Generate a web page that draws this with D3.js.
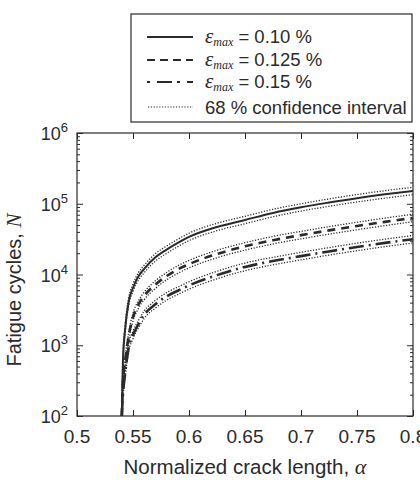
<!DOCTYPE html>
<html>
<head>
<meta charset="utf-8">
<script src="https://cdn.jsdelivr.net/npm/d3@7"></script>
<style>
  body { margin: 0; background: #fff; }
  text { font-family: "Liberation Sans", Arial, sans-serif; fill: #2a2a2a; }
</style>
</head>
<body>
<div id="chart"></div>
<script>
// data
var alpha = [0.540, 0.541, 0.543, 0.546, 0.55, 0.555, 0.56, 0.57, 0.58, 0.59, 0.6, 0.625, 0.65, 0.675, 0.7, 0.725, 0.75, 0.775, 0.8];

var eps010 = [100, 600, 1700, 4000, 6500, 9500, 12000, 17500, 22500, 28000, 34000, 47000, 59000, 74000, 89000, 104000, 120000, 136000, 152000];
var eps010Hi = [110, 700, 1950, 4550, 7350, 10700, 13500, 19700, 25300, 31500, 38300, 53000, 66500, 83500, 100000, 117000, 135000, 153000, 171000];
var eps010Lo = [90, 520, 1500, 3550, 5750, 8400, 10600, 15500, 19900, 24800, 30100, 41600, 52200, 65500, 78800, 92000, 106000, 120000, 134500];

var eps0125 = [100, 300, 600, 1300, 2500, 3800, 5000, 7200, 9500, 11800, 14000, 19500, 25000, 30500, 36000, 42000, 48500, 55500, 63000];
var eps0125Hi = [110, 340, 680, 1470, 2850, 4300, 5650, 8150, 10700, 13300, 15800, 22000, 28200, 34500, 40700, 47500, 54800, 62700, 71200];
var eps0125Lo = [90, 265, 530, 1150, 2200, 3350, 4420, 6350, 8400, 10400, 12400, 17250, 22100, 27000, 31900, 37200, 42900, 49100, 55800];

var eps015 = [100, 200, 400, 900, 1400, 2000, 2700, 3800, 4900, 5900, 7000, 9800, 12800, 15500, 18200, 21200, 24500, 28000, 31500];
var eps015Hi = [110, 225, 450, 1020, 1580, 2260, 3050, 4300, 5550, 6650, 7900, 11100, 14500, 17500, 20600, 24000, 27700, 31600, 35600];
var eps015Lo = [90, 175, 355, 800, 1240, 1770, 2390, 3360, 4340, 5220, 6200, 8700, 11300, 13700, 16100, 18800, 21700, 24800, 27900];

var xTicks = [0.5, 0.55, 0.6, 0.65, 0.7, 0.75, 0.8];
var xTickLabels = ["0.5", "0.55", "0.6", "0.65", "0.7", "0.75", "0.8"];
var yTickExp = [2, 3, 4, 5, 6];
var legendValues = ["0.10", "0.125", "0.15"];

var svgWidth = 420, svgHeight = 480;
var margin = { top: 133, right: 7, bottom: 64, left: 77 };
var width = svgWidth - margin.left - margin.right;
var height = svgHeight - margin.top - margin.bottom;
var ink = "#2a2a2a";

var svg = d3.select("#chart").append("svg")
  .attr("width", svgWidth)
  .attr("height", svgHeight);

var chartGroup = svg.append("g")
  .attr("transform", `translate(${margin.left}, ${margin.top})`);

var x = d3.scaleLinear().domain([0.5, 0.8]).range([0, width]);
var y = d3.scaleLog().domain([1e2, 1e6]).range([height, 0]);

svg.append("defs").append("clipPath").attr("id", "clip")
  .append("rect").attr("width", width).attr("height", height);

// ticks (inward, mirrored on all sides)
var minor = [];
yTickExp.slice(0, -1).forEach(function(e) {
  for (var k = 2; k <= 9; k++) minor.push(k * Math.pow(10, e));
});
var majorY = yTickExp.map(function(e) { return Math.pow(10, e); });

function styleAxis(g) {
  g.select(".domain").remove();
  g.selectAll("line").attr("stroke", ink).attr("stroke-width", 1);
}

chartGroup.append("g").call(d3.axisLeft(y).tickValues(majorY).tickSize(-6).tickFormat("")).call(styleAxis);
chartGroup.append("g").call(d3.axisLeft(y).tickValues(minor).tickSize(-3).tickFormat("")).call(styleAxis);
chartGroup.append("g").attr("transform", `translate(${width},0)`)
  .call(d3.axisRight(y).tickValues(majorY).tickSize(-6).tickFormat("")).call(styleAxis);
chartGroup.append("g").attr("transform", `translate(${width},0)`)
  .call(d3.axisRight(y).tickValues(minor).tickSize(-3).tickFormat("")).call(styleAxis);

chartGroup.append("g").attr("transform", `translate(0,${height})`)
  .call(d3.axisBottom(x).tickValues(xTicks).tickSize(-6).tickFormat("")).call(styleAxis);
chartGroup.append("g")
  .call(d3.axisTop(x).tickValues(xTicks).tickSize(-6).tickFormat("")).call(styleAxis);

chartGroup.append("rect")
  .attr("width", width).attr("height", height)
  .attr("fill", "none").attr("stroke", ink).attr("stroke-width", 1.2);

// tick labels
chartGroup.selectAll(".xlab").data(xTicks).enter().append("text")
  .attr("x", function(d) { return x(d); })
  .attr("y", height + 27)
  .attr("text-anchor", "middle")
  .attr("font-size", 19)
  .text(function(d, i) { return xTickLabels[i]; });

var ylab = chartGroup.selectAll(".ylab").data(yTickExp).enter().append("text")
  .attr("x", -9)
  .attr("y", function(d) { return y(Math.pow(10, d)) + 7; })
  .attr("text-anchor", "end")
  .attr("font-size", 18);
ylab.append("tspan").text("10");
ylab.append("tspan").attr("dy", -8).attr("font-size", 13).text(function(d) { return d; });

// axis titles
var xt = svg.append("text")
  .attr("x", 245)
  .attr("y", 474)
  .attr("text-anchor", "middle")
  .attr("font-size", 20.5);
xt.append("tspan").text("Normalized crack length, ");
xt.append("tspan").attr("font-family", "'Liberation Serif', serif").attr("font-style", "italic").attr("font-size", 22).text("α");

var yt = svg.append("text")
  .attr("transform", "translate(21, 290) rotate(-90)")
  .attr("text-anchor", "middle")
  .attr("font-size", 20);
yt.append("tspan").text("Fatigue cycles, ");
yt.append("tspan").attr("font-family", "'Liberation Serif', serif").attr("font-style", "italic").attr("font-size", 21).text("N");

// curves
var line = d3.line()
  .x(function(d, i) { return x(alpha[i]); })
  .y(function(d) { return y(d); })
  .curve(d3.curveMonotoneX);

var dotted = "1.2,1.6";
var series = [
  { values: eps010Hi, dash: dotted, w: 1.3 },
  { values: eps010Lo, dash: dotted, w: 1.3 },
  { values: eps0125Hi, dash: dotted, w: 1.3 },
  { values: eps0125Lo, dash: dotted, w: 1.3 },
  { values: eps015Hi, dash: dotted, w: 1.3 },
  { values: eps015Lo, dash: dotted, w: 1.3 },
  { values: eps010, dash: null, w: 2 },
  { values: eps0125, dash: "8,6", w: 2.6 },
  { values: eps015, dash: "15,5,2,5", w: 2.6 }
];

chartGroup.append("g").attr("clip-path", "url(#clip)")
  .selectAll("path").data(series).enter().append("path")
  .attr("d", function(d) { return line(d.values); })
  .attr("fill", "none")
  .attr("stroke", ink)
  .attr("stroke-width", function(d) { return d.w; })
  .attr("stroke-dasharray", function(d) { return d.dash; });

// legend
var legend = svg.append("g");
legend.append("rect")
  .attr("x", 131).attr("y", 14).attr("width", 281).attr("height", 108)
  .attr("fill", "#fff").attr("stroke", ink).attr("stroke-width", 1.2);

var legendItems = [
  { dash: null, w: 2, label: legendValues[0] },
  { dash: "8,5", w: 2.2, label: legendValues[1] },
  { dash: "3,7,15,5", w: 2.2, label: legendValues[2] }
];
var rowY = [37, 60, 82];

legendItems.forEach(function(d, i) {
  legend.append("line")
    .attr("x1", 147).attr("x2", 193)
    .attr("y1", rowY[i]).attr("y2", rowY[i])
    .attr("stroke", ink).attr("stroke-width", d.w)
    .attr("stroke-dasharray", d.dash);
  var t = legend.append("text").attr("x", 205).attr("y", rowY[i] + 6).attr("font-size", 18.5);
  t.append("tspan").attr("font-family", "'Liberation Serif', serif").attr("font-style", "italic").attr("font-size", 21).text("ε");
  t.append("tspan").attr("font-family", "'Liberation Serif', serif").attr("font-style", "italic").attr("font-size", 12).attr("dy", 3).text("max");
  t.append("tspan").attr("dy", -3).text(" = " + d.label + " %");
});

legend.append("line")
  .attr("x1", 148).attr("x2", 193)
  .attr("y1", 107).attr("y2", 107)
  .attr("stroke", ink).attr("stroke-width", 1.2)
  .attr("stroke-dasharray", dotted);
legend.append("text").attr("x", 205).attr("y", 114).attr("font-size", 18.5)
  .text("68 % confidence interval");
</script>
</body>
</html>
